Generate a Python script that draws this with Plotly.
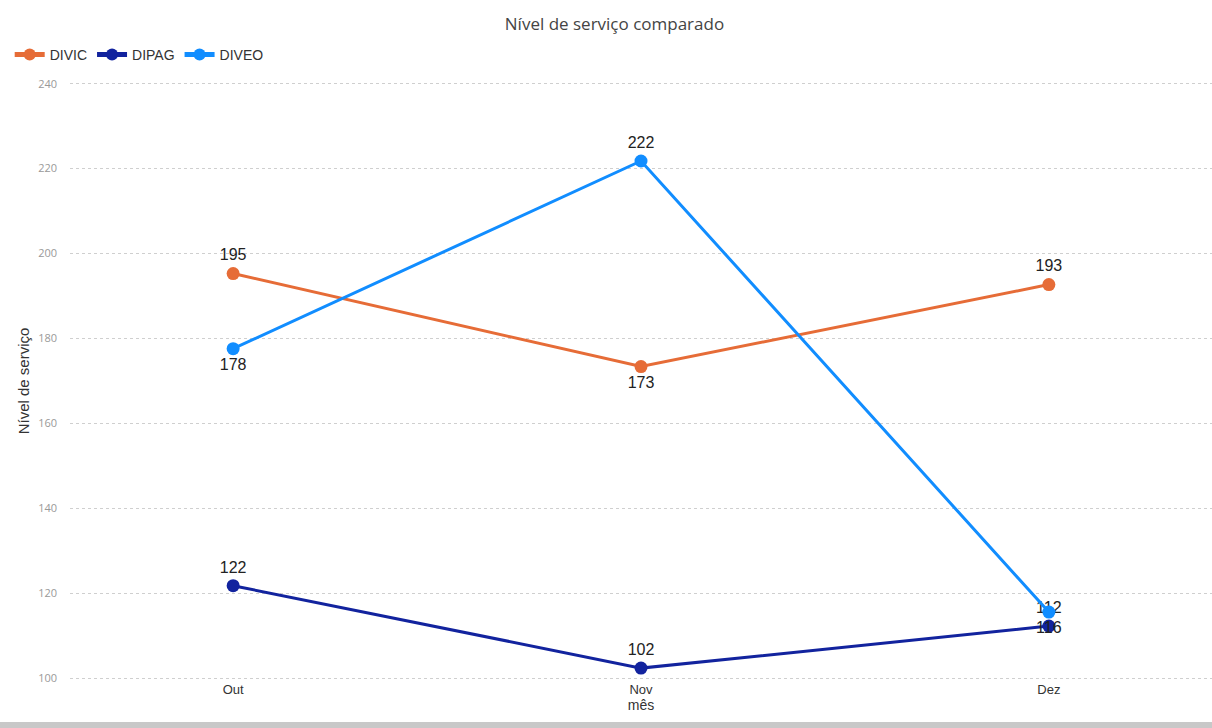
import plotly.graph_objects as go

months = ["Out", "Nov", "Dez"]
divic = [195.3, 173.4, 192.7]
dipag = [121.8, 102.4, 112.3]
diveo = [177.6, 221.8, 115.6]

divic_pos = ["top center", "bottom center", "top center"]
dipag_pos = ["top center", "top center", "top center"]
diveo_pos = ["bottom center", "top center", "bottom center"]

series = [
    ("DIVIC", divic, "#E66C37", divic_pos),
    ("DIPAG", dipag, "#12239E", dipag_pos),
    ("DIVEO", diveo, "#118DFF", diveo_pos),
]

fig = go.Figure()
for name, vals, color, pos in series:
    fig.add_trace(go.Scatter(
        x=months, y=vals, name=name, mode="lines+markers+text",
        line=dict(color=color, width=3),
        marker=dict(color=color, size=13),
        texttemplate="%{y:.0f}", textposition=pos,
        textfont=dict(family="Liberation Sans, Arial", size=16, color="#222"),
        cliponaxis=False,
    ))

fig.update_layout(
    width=1212, height=728,
    margin=dict(l=70, r=0, t=82, b=48),
    paper_bgcolor="white", plot_bgcolor="white",
    font=dict(family="Open Sans, Arial", color="#333"),
    title=dict(text="Nível de serviço comparado", x=0.507, xanchor="center",
               y=1 - 24 / 728, yanchor="middle", yref="container",
               font=dict(size=17, color="#444")),
    legend=dict(orientation="h", x=0.008, xanchor="left", xref="container",
                y=1 - 55 / 728, yanchor="middle", yref="container",
                font=dict(family="Liberation Sans, Arial", size=14, color="#333"),
                itemwidth=30, traceorder="normal", tracegroupgap=0,
                itemsizing="constant"),
    showlegend=True,
)
fig.update_xaxes(
    type="category", range=[-0.4, 2.4], showgrid=False, zeroline=False,
    showline=False, ticks="",
    tickfont=dict(family="Liberation Sans, Arial", size=13, color="#333"),
    title=dict(text="mês", font=dict(family="Liberation Sans, Arial", size=14, color="#333"),
               standoff=2),
)
fig.update_yaxes(
    range=[99.6, 240.4], dtick=20, tick0=100, showgrid=True, gridcolor="#cfcfcf",
    griddash="dot", gridwidth=1, zeroline=False, showline=False,
    tickfont=dict(size=11, color="#999"), ticklabelstandoff=12,
    title=dict(text="Nível de serviço", font=dict(family="Liberation Sans, Arial", size=15, color="#333"),
               standoff=4),
)
fig.add_shape(type="rect", xref="paper", yref="paper", x0=-0.1, x1=1.1,
              y0=-(728 - 680) / 598 - 0.01, y1=-(722 - 680) / 598,
              fillcolor="#c8c8c8", line=dict(width=0), layer="above")

fig.write_html("out.html")
